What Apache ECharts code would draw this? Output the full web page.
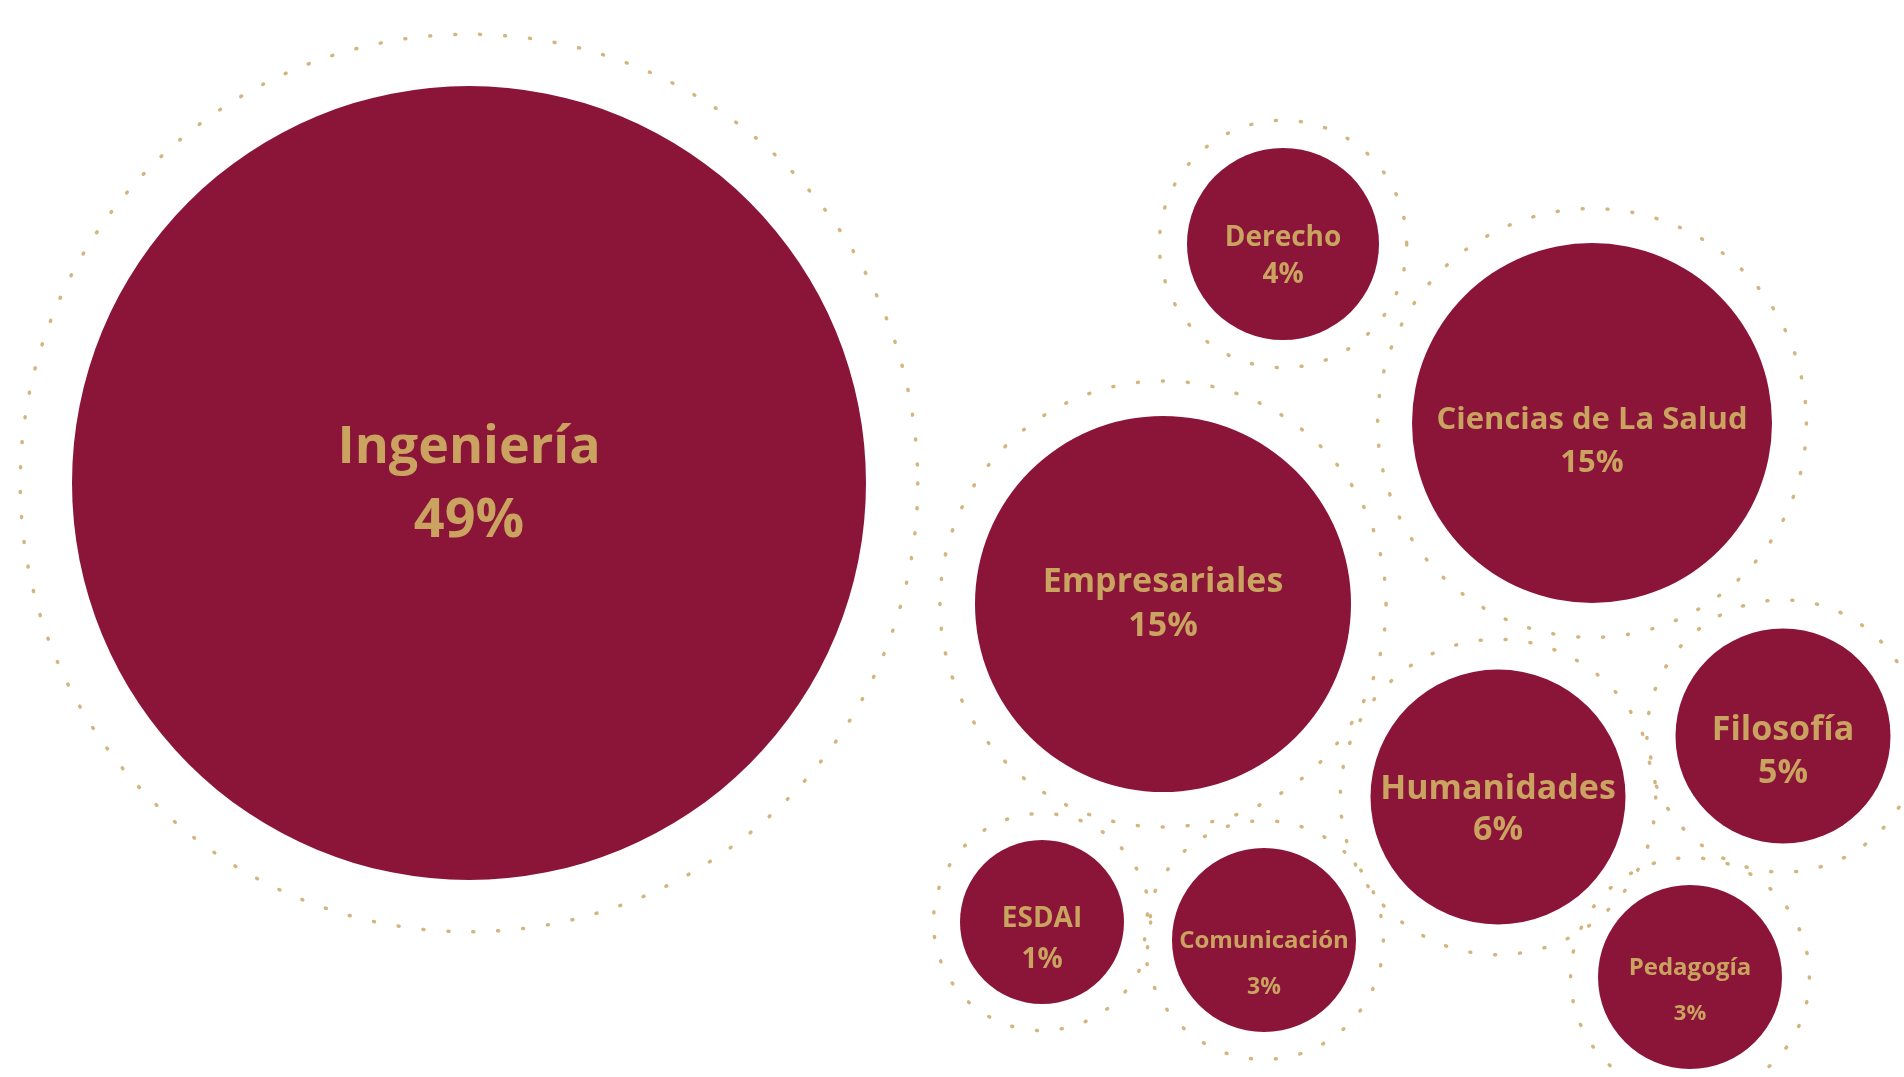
<!DOCTYPE html>
<html>
<head>
<meta charset="utf-8">
<title>Bubble chart</title>
<script src="https://cdn.jsdelivr.net/npm/echarts@6/dist/echarts.min.js"></script>
<style>
  html, body { margin: 0; padding: 0; background: #ffffff; }
  #chart { width: 1904px; height: 1077px; }
</style>
</head>
<body>
<div id="chart"></div>
<script>
// ---- data ----
const categories = ['Ingeniería', 'Empresariales', 'Ciencias de La Salud', 'Derecho', 'Humanidades', 'Filosofía', 'ESDAI', 'Comunicación', 'Pedagogía'];
const percentValues = [49, 15, 15, 4, 6, 5, 1, 3, 3];
// bubble centres in chart units (x: 0-1904, y: 0-1077 from the top)
const bubbleX = [469, 1163, 1592, 1283, 1498, 1783, 1042, 1264, 1690];
const bubbleY = [483, 604, 423, 244, 797, 736, 922, 940, 977];
// bubble diameters
const bubbleDiameter = [794, 376, 360, 192, 255, 215, 164, 184, 184];

// ---- styles (kept apart from data) ----
const MAROON = '#8A1538';
const GOLD = '#C9A35F';
const nameFont = [52, 34, 31, 28, 34, 34, 28, 24, 24];
const pctFont  = [54, 34, 31, 28, 34, 34, 28, 23, 22];
const lineGap  = [73, 44, 43, 37, 41, 43, 41, 46, 46];
const labelDy  = [2, 0, 19, 13, 13, 16, 18, 24, 14];

const bubbleData = categories.map((name, i) => ({
  name: name,
  value: [bubbleX[i], bubbleY[i], percentValues[i]],
  symbolSize: bubbleDiameter[i],
  label: {
    offset: [0, labelDy[i]],
    rich: {
      n: { fontSize: nameFont[i], lineHeight: lineGap[i], color: GOLD, fontWeight: 700, fontFamily: 'Open Sans' },
      p: { fontSize: pctFont[i], lineHeight: lineGap[i], color: GOLD, fontWeight: 700, fontFamily: 'Open Sans' }
    }
  }
}));

const ringData = categories.map((name, i) => ({
  name: name,
  value: [bubbleX[i], bubbleY[i], percentValues[i]],
  symbolSize: (bubbleDiameter[i] / 2 * 1.08 + 20) * 2
}));

const chart = echarts.init(document.getElementById('chart'), null, { renderer: 'canvas' });
chart.setOption({
  backgroundColor: '#ffffff',
  animation: false,
  grid: { left: 0, right: 0, top: 0, bottom: 0 },
  xAxis: { type: 'value', min: 0, max: 1904, show: false },
  yAxis: { type: 'value', min: 0, max: 1077, inverse: true, show: false },
  series: [
    {
      name: 'rings',
      type: 'scatter',
      z: 1,
      silent: true,
      symbol: 'circle',
      data: ringData,
      itemStyle: {
        color: 'rgba(0,0,0,0)',
        borderColor: GOLD,
        borderWidth: 3.5,
        borderType: [1, 24],
        borderCap: 'round'
      },
      label: { show: false }
    },
    {
      name: 'bubbles',
      type: 'scatter',
      z: 2,
      symbol: 'circle',
      data: bubbleData,
      itemStyle: { color: MAROON, opacity: 1 },
      emphasis: { disabled: true },
      label: {
        show: true,
        position: 'inside',
        align: 'center',
        verticalAlign: 'middle',
        formatter: p => '{n|' + p.name + '}\n{p|' + p.value[2] + '%}'
      }
    }
  ]
});
</script>
</body>
</html>
